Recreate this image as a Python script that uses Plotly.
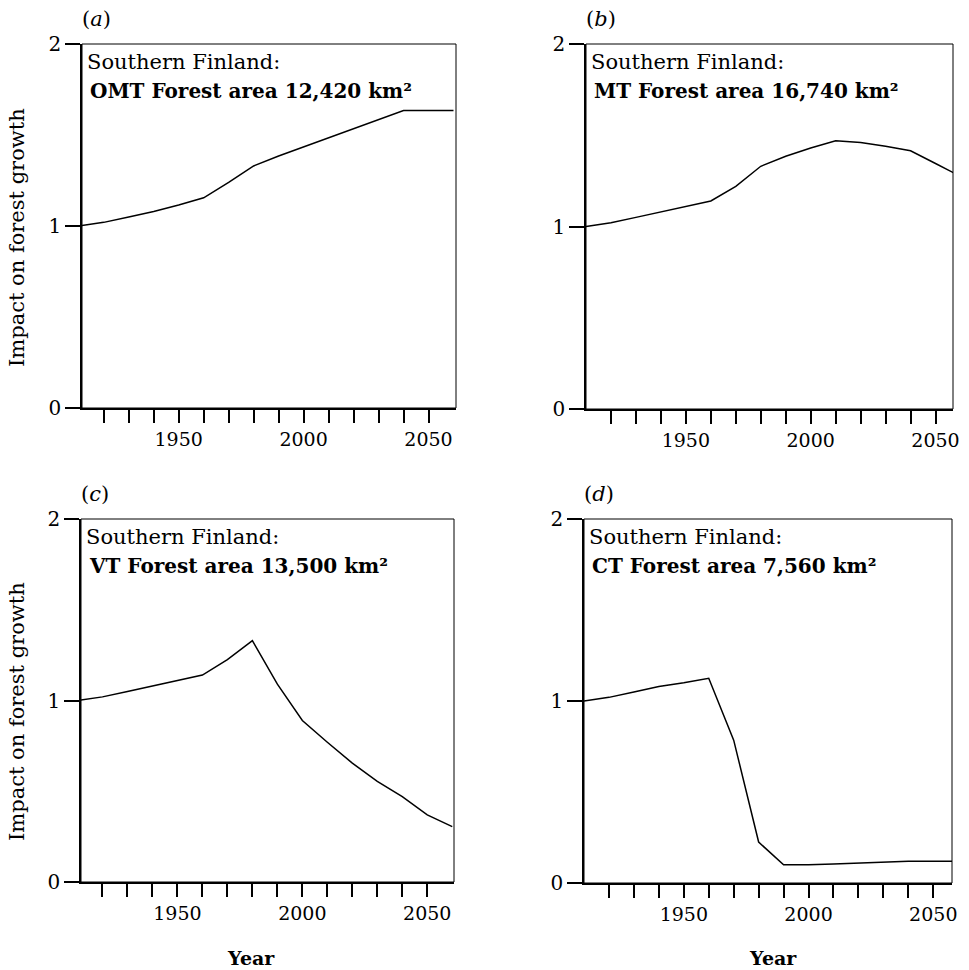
import plotly.graph_objects as go

# Simulated impact of climate change on forest growth, Southern Finland
years = [1910, 1920, 1930, 1940, 1950, 1960, 1970, 1980,
         1990, 2000, 2010, 2020, 2030, 2040, 2050, 2060]

omt = [1.00, 1.02, 1.05, 1.08, 1.115, 1.155, 1.24, 1.33,
       1.385, 1.435, 1.485, 1.535, 1.585, 1.635, 1.635, 1.635]
mt = [1.00, 1.02, 1.05, 1.08, 1.11, 1.14, 1.22, 1.33,
      1.385, 1.43, 1.47, 1.46, 1.44, 1.415, 1.345, 1.275]
vt = [1.00, 1.02, 1.05, 1.08, 1.11, 1.14, 1.225, 1.33,
      1.09, 0.89, 0.77, 0.655, 0.555, 0.47, 0.37, 0.305]
ct = [1.00, 1.02, 1.05, 1.08, 1.10, 1.125, 0.785, 0.225,
      0.10, 0.10, 0.105, 0.11, 0.115, 0.12, 0.12, 0.12]

panel_labels = ["(<i>a</i>)", "(<i>b</i>)", "(<i>c</i>)", "(<i>d</i>)"]
site_types = ["OMT", "MT", "VT", "CT"]
areas = ["12,420", "16,740", "13,500", "7,560"]
series = [omt, mt, vt, ct]

x_major = [1950, 2000, 2050]
x_minor = [1920, 1930, 1940, 1960, 1970, 1980, 1990,
           2010, 2020, 2030, 2040]
y_ticks = [0, 1, 2]

W, H = 969, 970
# pixel boxes of each panel: (left, right, top, bottom) and x-range
boxes = [
    (82, 456, 44, 408, [1911.3, 2061.0]),
    (586, 953, 44, 409, [1910.0, 2057.0]),
    (81, 454, 519, 882, [1911.4, 2060.7]),
    (584, 952, 519, 883, [1910.0, 2057.5]),
]

FONT = "DejaVu Serif"
fig = go.Figure()
layout = dict(
    width=W, height=H,
    margin=dict(l=0, r=0, t=0, b=0),
    paper_bgcolor="white", plot_bgcolor="white",
    showlegend=False,
    font=dict(family=FONT, color="black"),
)
annotations = []
shapes = []


def px(x):
    return x / W


def py(y):
    return 1 - y / H


for i, (l, r, t, b, xr) in enumerate(boxes):
    n = "" if i == 0 else str(i + 1)
    xa, ya = "x" + n, "y" + n
    fig.add_trace(go.Scatter(
        x=years, y=series[i], mode="lines", xaxis=xa, yaxis=ya,
        line=dict(color="black", width=1.5), hoverinfo="skip",
    ))
    layout["xaxis" + n] = dict(
        domain=[px(l), px(r)], anchor=ya, range=xr,
        tickmode="array", tickvals=x_major,
        ticktext=[str(v) for v in x_major],
        ticks="outside", ticklen=13, tickwidth=2, tickcolor="black",
        minor=dict(tickmode="array", tickvals=x_minor, ticks="outside",
                   ticklen=13, tickwidth=2, tickcolor="black",
                   showgrid=False),
        showline=True, linecolor="black", linewidth=2,
        showgrid=False, zeroline=False, automargin=False,
        tickfont=dict(family=FONT, size=19, color="black"),
    )
    layout["yaxis" + n] = dict(
        domain=[py(b), py(t)], anchor=xa, range=[0, 2],
        tickmode="array", tickvals=y_ticks, ticktext=["0", "1", "2"],
        ticks="outside", ticklen=15, tickwidth=1.5, tickcolor="black",
        showline=True, linecolor="black", linewidth=1.5,
        showgrid=False, zeroline=False, automargin=False,
        tickfont=dict(family=FONT, size=20, color="black"),
    )
    # thin frame on top and right
    shapes.append(dict(
        type="rect", xref=xa + " domain", yref=ya + " domain",
        x0=0, x1=1, y0=0, y1=1, line=dict(color="black", width=1),
        layer="above",
    ))
    # panel letter
    annotations.append(dict(
        text=panel_labels[i], x=px(l - 2), y=py(t - 25),
        xref="paper", yref="paper", xanchor="left", yanchor="middle",
        showarrow=False, font=dict(family=FONT, size=21),
    ))
    # panel caption
    annotations.append(dict(
        text="Southern Finland:", x=px(l + 3), y=py(t + 18),
        xref="paper", yref="paper", xanchor="left", yanchor="middle",
        showarrow=False, font=dict(family=FONT, size=21),
    ))
    annotations.append(dict(
        text=f"{site_types[i]} Forest area {areas[i]} km²",
        x=px(l + 6), y=py(t + 47),
        xref="paper", yref="paper", xanchor="left", yanchor="middle",
        showarrow=False, font=dict(family=FONT, size=20, weight="bold"),
    ))

# axis titles
for yc in (238, 712):
    annotations.append(dict(
        text="Impact on forest growth", x=px(17), y=py(yc),
        xref="paper", yref="paper", xanchor="center", yanchor="middle",
        textangle=-90, showarrow=False, font=dict(family=FONT, size=21),
    ))
for xc in (251, 773):
    annotations.append(dict(
        text="Year", x=px(xc), y=py(958),
        xref="paper", yref="paper", xanchor="center", yanchor="middle",
        showarrow=False, font=dict(family=FONT, size=19, weight="bold"),
    ))

layout["annotations"] = annotations
layout["shapes"] = shapes
fig.update_layout(**layout)
fig.write_html("out.html")
